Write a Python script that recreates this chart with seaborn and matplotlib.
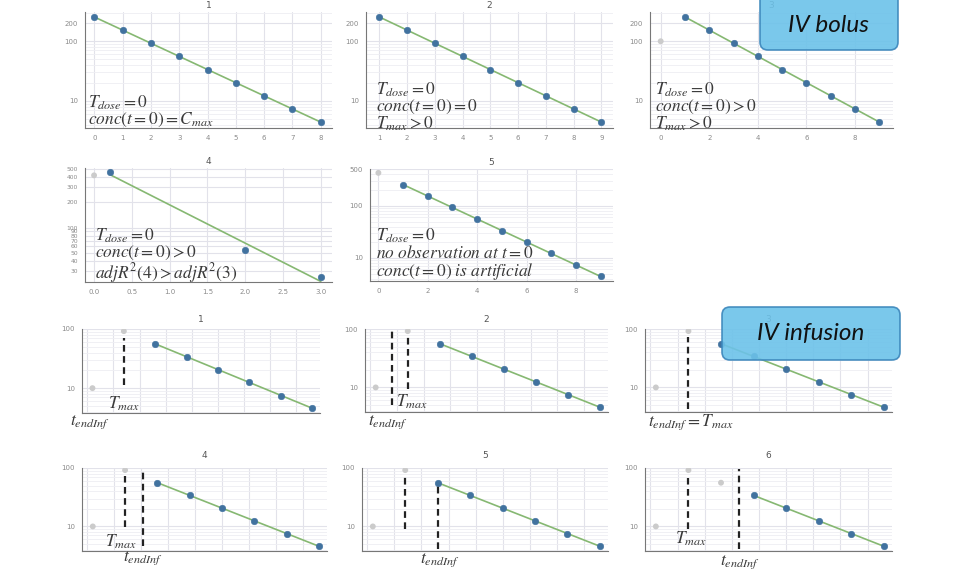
import numpy as np
import pandas as pd
import seaborn as sns
import matplotlib.pyplot as plt
from matplotlib.patches import FancyBboxPatch
from matplotlib.ticker import FixedLocator, LogLocator, NullFormatter, FuncFormatter

# --- values ---
bolus_t = [0, 1, 2, 3, 4, 5, 6, 7, 8]
bolus_t_late = [1, 2, 3, 4, 5, 6, 7, 8, 9]
bolus_conc = [255, 154, 93, 56, 33.5, 20, 12.2, 7.3, 4.4]
case3_t0_conc = 100    # excluded observation at t=0
case4_t = [0.0, 0.21, 2.0, 3.0]
case4_conc = [417, 457, 53.5, 26]
case5_t0_conc = 430    # artificial conc at t=0

inf_t = [0.2, 1.4, 2.6, 3.8, 5.0, 6.2, 7.4, 8.6]
inf_conc = [10, 92, 56, 34, 20.6, 12.5, 7.5, 4.6]
inf_n_excluded = [2, 2, 2, 2, 2, 3]
inf_tmax = 1.4
inf_tend = [None, 0.82, None, 2.05, 2.6, 3.27]
tmax_span = [(11.4, 70), (9.4, 74), (4.3, 74), (9.6, 72), (9, 77), (9, 68)]
tend_span = [None, (5.1, 92), None, (4.7, 91), (4.1, 49), (4.1, 96)]

BLUE = '#41729f'
GRAY = '#cbcbcb'
GREEN = '#86b872'
GRID = '#e2e2ea'
GRID_MINOR = '#eeeef3'
INK = '#3a3a3a'
W, H = 960, 576

sns.set_style('white')
plt.rcParams['mathtext.fontset'] = 'stix'
plt.rcParams['font.family'] = ['DejaVu Sans']

fig = plt.figure(figsize=(9.6, 5.76), dpi=100)


def add_ax(x0, y0, x1, y1):
    return fig.add_axes([x0 / W, 1 - y1 / H, (x1 - x0) / W, (y1 - y0) / H])


def draw(ax, t, c, n_excl):
    df = pd.DataFrame({'t': t, 'conc': c})
    excl = df.iloc[:n_excl]
    used = df.iloc[n_excl:]
    if len(excl):
        sns.scatterplot(data=excl, x='t', y='conc', ax=ax, color=GRAY, s=18,
                        edgecolor='none', zorder=3)
    # log-linear fit over the included points
    k, b = np.polyfit(used['t'], np.log(used['conc']), 1)
    fit = pd.DataFrame({'t': [used['t'].iloc[0], used['t'].iloc[-1]]})
    fit['conc'] = np.exp(b + k * fit['t'])
    sns.lineplot(data=fit, x='t', y='conc', ax=ax, color=GREEN, lw=1.2, zorder=2)
    sns.scatterplot(data=used, x='t', y='conc', ax=ax, color=BLUE, s=22,
                    edgecolor=BLUE, linewidth=0.4, zorder=4)
    ax.set_yscale('log')


def style(ax, xlim, ylim, xticks, yticks, title, pad, xlabels=True,
          xfmt='{:g}', ysize=5):
    ax.set_xlim(xlim)
    ax.set_ylim(ylim)
    ax.set_xticks(xticks)
    if xlabels:
        ax.set_xticklabels([xfmt.format(v) for v in xticks])
    else:
        ax.set_xticklabels([])
    ax.yaxis.set_major_locator(FixedLocator(yticks))
    ax.yaxis.set_major_formatter(FuncFormatter(lambda v, p: f'{v:g}'))
    ax.yaxis.set_minor_locator(LogLocator(base=10, subs=np.arange(2, 10)))
    ax.yaxis.set_minor_formatter(NullFormatter())
    ax.grid(True, which='major', color=GRID, lw=0.8)
    ax.grid(True, which='minor', axis='y', color=GRID_MINOR, lw=0.6)
    ax.set_axisbelow(True)
    for s in ['top', 'right']:
        ax.spines[s].set_visible(False)
    for s in ['left', 'bottom']:
        ax.spines[s].set_color('#777777')
        ax.spines[s].set_linewidth(0.8)
    ax.tick_params(which='major', length=3, width=0.6, color='#777777',
                   labelsize=5, labelcolor='#8a8a8a', pad=2)
    ax.tick_params(axis='y', which='major', labelsize=ysize)
    ax.tick_params(which='minor', length=1.5, width=0.5, color='#999999')
    ax.set_xlabel('')
    ax.set_ylabel('')
    ax.set_title(title, fontsize=6.5, color='#555555', pad=pad)


def note(x, y, s, size=12.5):
    fig.text(x / W, 1 - y / H, s, fontsize=size, color=INK, va='center', ha='left')


# ---------------- IV bolus ----------------
ax = add_ax(85, 12, 332, 128)
draw(ax, bolus_t, bolus_conc, 0)
style(ax, (-0.33, 8.4), (3.5, 310), bolus_t, [10, 100, 200], '1', 3)

ax = add_ax(366, 12, 613, 128)
draw(ax, bolus_t_late, bolus_conc, 0)
style(ax, (0.52, 9.42), (3.5, 310), bolus_t_late, [10, 100, 200], '2', 3)

ax = add_ax(650, 12, 893, 128)
draw(ax, [0] + bolus_t_late, [case3_t0_conc] + bolus_conc, 1)
style(ax, (-0.44, 9.56), (3.5, 310), [0, 2, 4, 6, 8], [10, 100, 200], '3', 3)

ax = add_ax(85, 168, 332, 282)
draw(ax, case4_t, case4_conc, 1)
style(ax, (-0.12, 3.15), (22.5, 510), [0, 0.5, 1, 1.5, 2, 2.5, 3],
      [30, 40, 50, 60, 70, 80, 90, 100, 200, 300, 400, 500], '4', 3,
      xfmt='{:.1f}', ysize=4.3)

ax = add_ax(370, 169, 613, 281)
draw(ax, [0] + bolus_t_late, [case5_t0_conc] + bolus_conc, 1)
style(ax, (-0.34, 9.5), (3.6, 510), [0, 2, 4, 6, 8], [10, 100, 500], '5', 3)

note(88, 103, r'$T_{dose} = 0$')
note(88, 120, r'$conc(t = 0) = C_{max}$')
note(376, 90, r'$T_{dose} = 0$')
note(376, 107, r'$conc(t = 0) = 0$')
note(376, 124, r'$T_{max} > 0$')
note(655, 90, r'$T_{dose} = 0$')
note(655, 107, r'$conc(t = 0) > 0$')
note(655, 124, r'$T_{max} > 0$')
note(95, 236, r'$T_{dose} = 0$')
note(95, 253, r'$conc(t = 0) > 0$')
note(95, 273, r'$adjR^2(4) > adjR^2(3)$')
note(376, 236, r'$T_{dose} = 0$')
note(376, 253, r'$no\ observation\ at\ t = 0$')
note(376, 272, r'$conc(t = 0)\ is\ artificial$')

# ---------------- IV infusion ----------------
inf_rects = [(82, 329, 320, 413), (365, 329, 608, 412), (645, 329, 892, 412),
             (82, 468, 327, 551), (362, 468, 608, 551), (645, 468, 892, 551)]
inf_pads = [5, 5, 5, 7, 7, 7]
for i, rect in enumerate(inf_rects):
    ax = add_ax(*rect)
    draw(ax, inf_t, inf_conc, inf_n_excluded[i])
    lo, hi = tmax_span[i]
    ax.plot([inf_tmax, inf_tmax], [lo, hi], color='#222222', lw=1.6,
            ls=(0, (3, 2)), zorder=5)
    if tend_span[i] is not None:
        lo, hi = tend_span[i]
        ax.plot([inf_tend[i], inf_tend[i]], [lo, hi], color='#222222', lw=1.6,
                ls=(0, (3, 2)), zorder=5)
    style(ax, (-0.2, 8.9), (3.8, 100), list(range(0, 9)), [10, 100],
          str(i + 1), inf_pads[i], xlabels=False)

note(108, 404, r'$T_{max}$')
note(70, 422, r'$t_{endInf}$')
note(396, 402, r'$T_{max}$')
note(368, 422, r'$t_{endInf}$')
note(648, 422, r'$t_{endInf} = T_{max}$')
note(105, 542, r'$T_{max}$')
note(123, 558, r'$t_{endInf}$')
note(420, 560, r'$t_{endInf}$')
note(675, 539, r'$T_{max}$')
note(720, 562, r'$t_{endInf}$')

# ---------------- labels in blue boxes ----------------
for (x0, y0, x1, y1), label in [((760, -20, 898, 50), 'IV bolus'),
                                ((722, 307, 900, 360), 'IV infusion')]:
    box = FancyBboxPatch((x0 / 100, (H - y1) / 100), (x1 - x0) / 100, (y1 - y0) / 100,
                         boxstyle='round,pad=0,rounding_size=0.08',
                         transform=fig.dpi_scale_trans, facecolor='#6cc2e9',
                         edgecolor='#3b86bb', lw=1.2, alpha=0.9, zorder=10)
    fig.add_artist(box)
    fig.text((x0 + x1) / 2 / W, 1 - (max(y0, 0) + y1) / 2 / H, label,
             fontsize=17.5, family=['Lato', 'DejaVu Sans'], style='italic',
             color='#111111', ha='center', va='center', zorder=11)

fig.savefig('out.png', dpi=100)
